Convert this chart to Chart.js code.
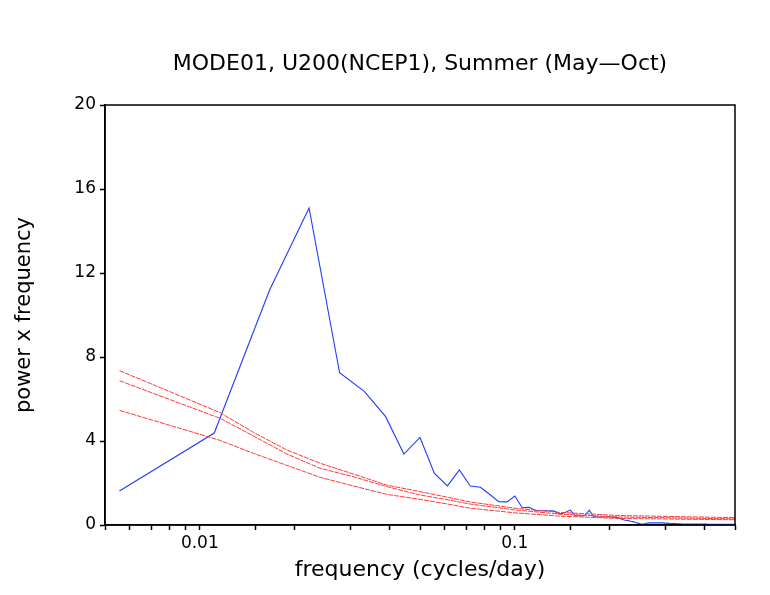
<!DOCTYPE html>
<html>
<head>
<meta charset="utf-8">
<script src="https://cdn.jsdelivr.net/npm/chart.js@4.4.0/dist/chart.umd.min.js"></script>
<style>
  html, body { margin: 0; padding: 0; background: #fff; }
  #wrap { width: 770px; height: 595px; }
</style>
</head>
<body>
<div id="wrap"><canvas id="spec"></canvas></div>
<script>
// record length (days) and harmonic numbers -> frequency in cycles/day
const recordDays = 180;
const harmonic = [1, 2, 3, 4, 5, 6, 7, 8, 9, 10, 11, 12, 13, 14, 15, 16, 17, 18, 19, 20,
  21, 22, 23, 24, 25, 26, 27, 28, 29, 30, 31, 32, 33, 34, 35, 36, 37, 38, 39, 40,
  41, 42, 43, 44, 45, 46, 47, 48, 49, 50, 51, 52, 53, 54, 55, 56, 57, 58, 59, 60,
  61, 62, 63, 64, 65, 66, 67, 68, 69, 70, 71, 72, 73, 74, 75, 76, 77, 78, 79, 80,
  81, 82, 83, 84, 85, 86, 87, 88, 89, 90];

// power x frequency of the mode
const powerFreq = [1.62, 4.38, 11.2, 15.1, 7.25, 6.35, 5.16, 3.38, 4.17, 2.46,
  1.86, 2.62, 1.86, 1.80, 1.45, 1.11, 1.10, 1.38, 0.82, 0.84,
  0.68, 0.68, 0.68, 0.66, 0.52, 0.60, 0.71, 0.44, 0.44, 0.44,
  0.71, 0.40, 0.38, 0.38, 0.38, 0.38, 0.37, 0.36, 0.30, 0.24,
  0.22, 0.18, 0.15, 0.10, 0.06, 0.04, 0.08, 0.10, 0.10, 0.10,
  0.10, 0.10, 0.10, 0.09, 0.09, 0.07, 0.07, 0.07, 0.06, 0.06,
  0.04, 0.04, 0.04, 0.04, 0.04, 0.04, 0.04, 0.04, 0.04, 0.04,
  0.04, 0.04, 0.04, 0.03, 0.03, 0.03, 0.03, 0.03, 0.03, 0.03,
  0.03, 0.03, 0.03, 0.03, 0.03, 0.03, 0.03, 0.03, 0.03, 0.03];

// red noise spectrum and confidence curves (read at a few frequencies)
const redFreq = [0.00556, 0.0116, 0.0148, 0.0189, 0.0241, 0.0307, 0.0392, 0.05,
  0.0622, 0.072, 0.1, 0.139, 0.215, 0.5];
const red99 = [7.35, 5.35, 4.41, 3.57, 2.94, 2.43, 1.90, 1.59, 1.30, 1.10, 0.80, 0.60, 0.45, 0.35];
const red95 = [6.87, 5.08, 4.24, 3.38, 2.70, 2.30, 1.83, 1.43, 1.18, 1.00, 0.72, 0.52, 0.38, 0.29];
const redMean = [5.46, 4.03, 3.41, 2.84, 2.27, 1.86, 1.46, 1.22, 0.98, 0.80, 0.58, 0.42, 0.31, 0.25];

const yTicks = [0, 4, 8, 12, 16, 20];
const xLabels = ['0.01', '0.1'];

const FONT = 'DejaVu Sans';

const pts = (xs, ys) => xs.map((x, i) => ({ x: x, y: ys[i] }));

const redLine = (vals) => ({
  data: pts(redFreq, vals),
  borderColor: '#ff3a3a',
  borderWidth: 1,
  borderDash: [5, 1],
  pointRadius: 0,
  tension: 0
});

const frame = {
  id: 'frame',
  afterDraw(chart) {
    const { ctx, chartArea: a } = chart;
    ctx.save();
    ctx.strokeStyle = '#000';
    ctx.lineWidth = 1.5;
    ctx.strokeRect(a.left, a.top, a.right - a.left, a.bottom - a.top);
    ctx.restore();
  }
};

new Chart(document.getElementById('spec'), {
  type: 'line',
  data: {
    datasets: [
      redLine(red99),
      redLine(red95),
      redLine(redMean),
      {
        data: pts(harmonic.map(k => k / recordDays), powerFreq),
        borderColor: '#1f3cff',
        borderWidth: 1.1,
        pointRadius: 0,
        tension: 0
      }
    ]
  },
  options: {
    responsive: true,
    maintainAspectRatio: false,
    animation: false,
    layout: { padding: { left: 0, right: 35, top: 0, bottom: 0 } },
    plugins: {
      legend: { display: false },
      tooltip: { enabled: false },
      title: {
        display: true,
        fullSize: false,
        text: 'MODE01, U200(NCEP1), Summer (May\u2014Oct)',
        color: '#000',
        font: { family: FONT, size: 22, weight: 'normal' },
        padding: { top: 51, bottom: 27.6 }
      }
    },
    scales: {
      x: {
        type: 'logarithmic',
        min: 0.005,
        max: 0.5,
        afterFit: (axis) => { axis.height = 70; },
        border: { display: true, color: '#000', width: 1.5 },
        grid: { drawOnChartArea: false, drawTicks: true, tickLength: 5, tickColor: '#000', tickWidth: 1.5 },
        ticks: {
          autoSkip: false,
          maxRotation: 0,
          color: '#000',
          padding: 3,
          font: { family: FONT, size: 17 },
          callback: (v) => {
            const s = String(Number(v.toPrecision(3)));
            return xLabels.includes(s) ? s : '';
          }
        },
        title: {
          display: true,
          text: 'frequency (cycles/day)',
          color: '#000',
          font: { family: FONT, size: 22 },
          padding: { top: 0, bottom: 12 }
        }
      },
      y: {
        min: 0,
        max: 20,
        afterFit: (axis) => { axis.width = 105; },
        afterBuildTicks: (axis) => { axis.ticks = yTicks.map(v => ({ value: v })); },
        border: { display: true, color: '#000', width: 1.5 },
        grid: { drawOnChartArea: false, drawTicks: true, tickLength: 5, tickColor: '#000', tickWidth: 1.5 },
        ticks: {
          color: '#000',
          padding: 4,
          font: { family: FONT, size: 17 }
        },
        title: {
          display: true,
          text: 'power x frequency',
          color: '#000',
          font: { family: FONT, size: 21 },
          padding: { top: 12, bottom: 0 }
        }
      }
    }
  },
  plugins: [frame]
});
</script>
</body>
</html>
